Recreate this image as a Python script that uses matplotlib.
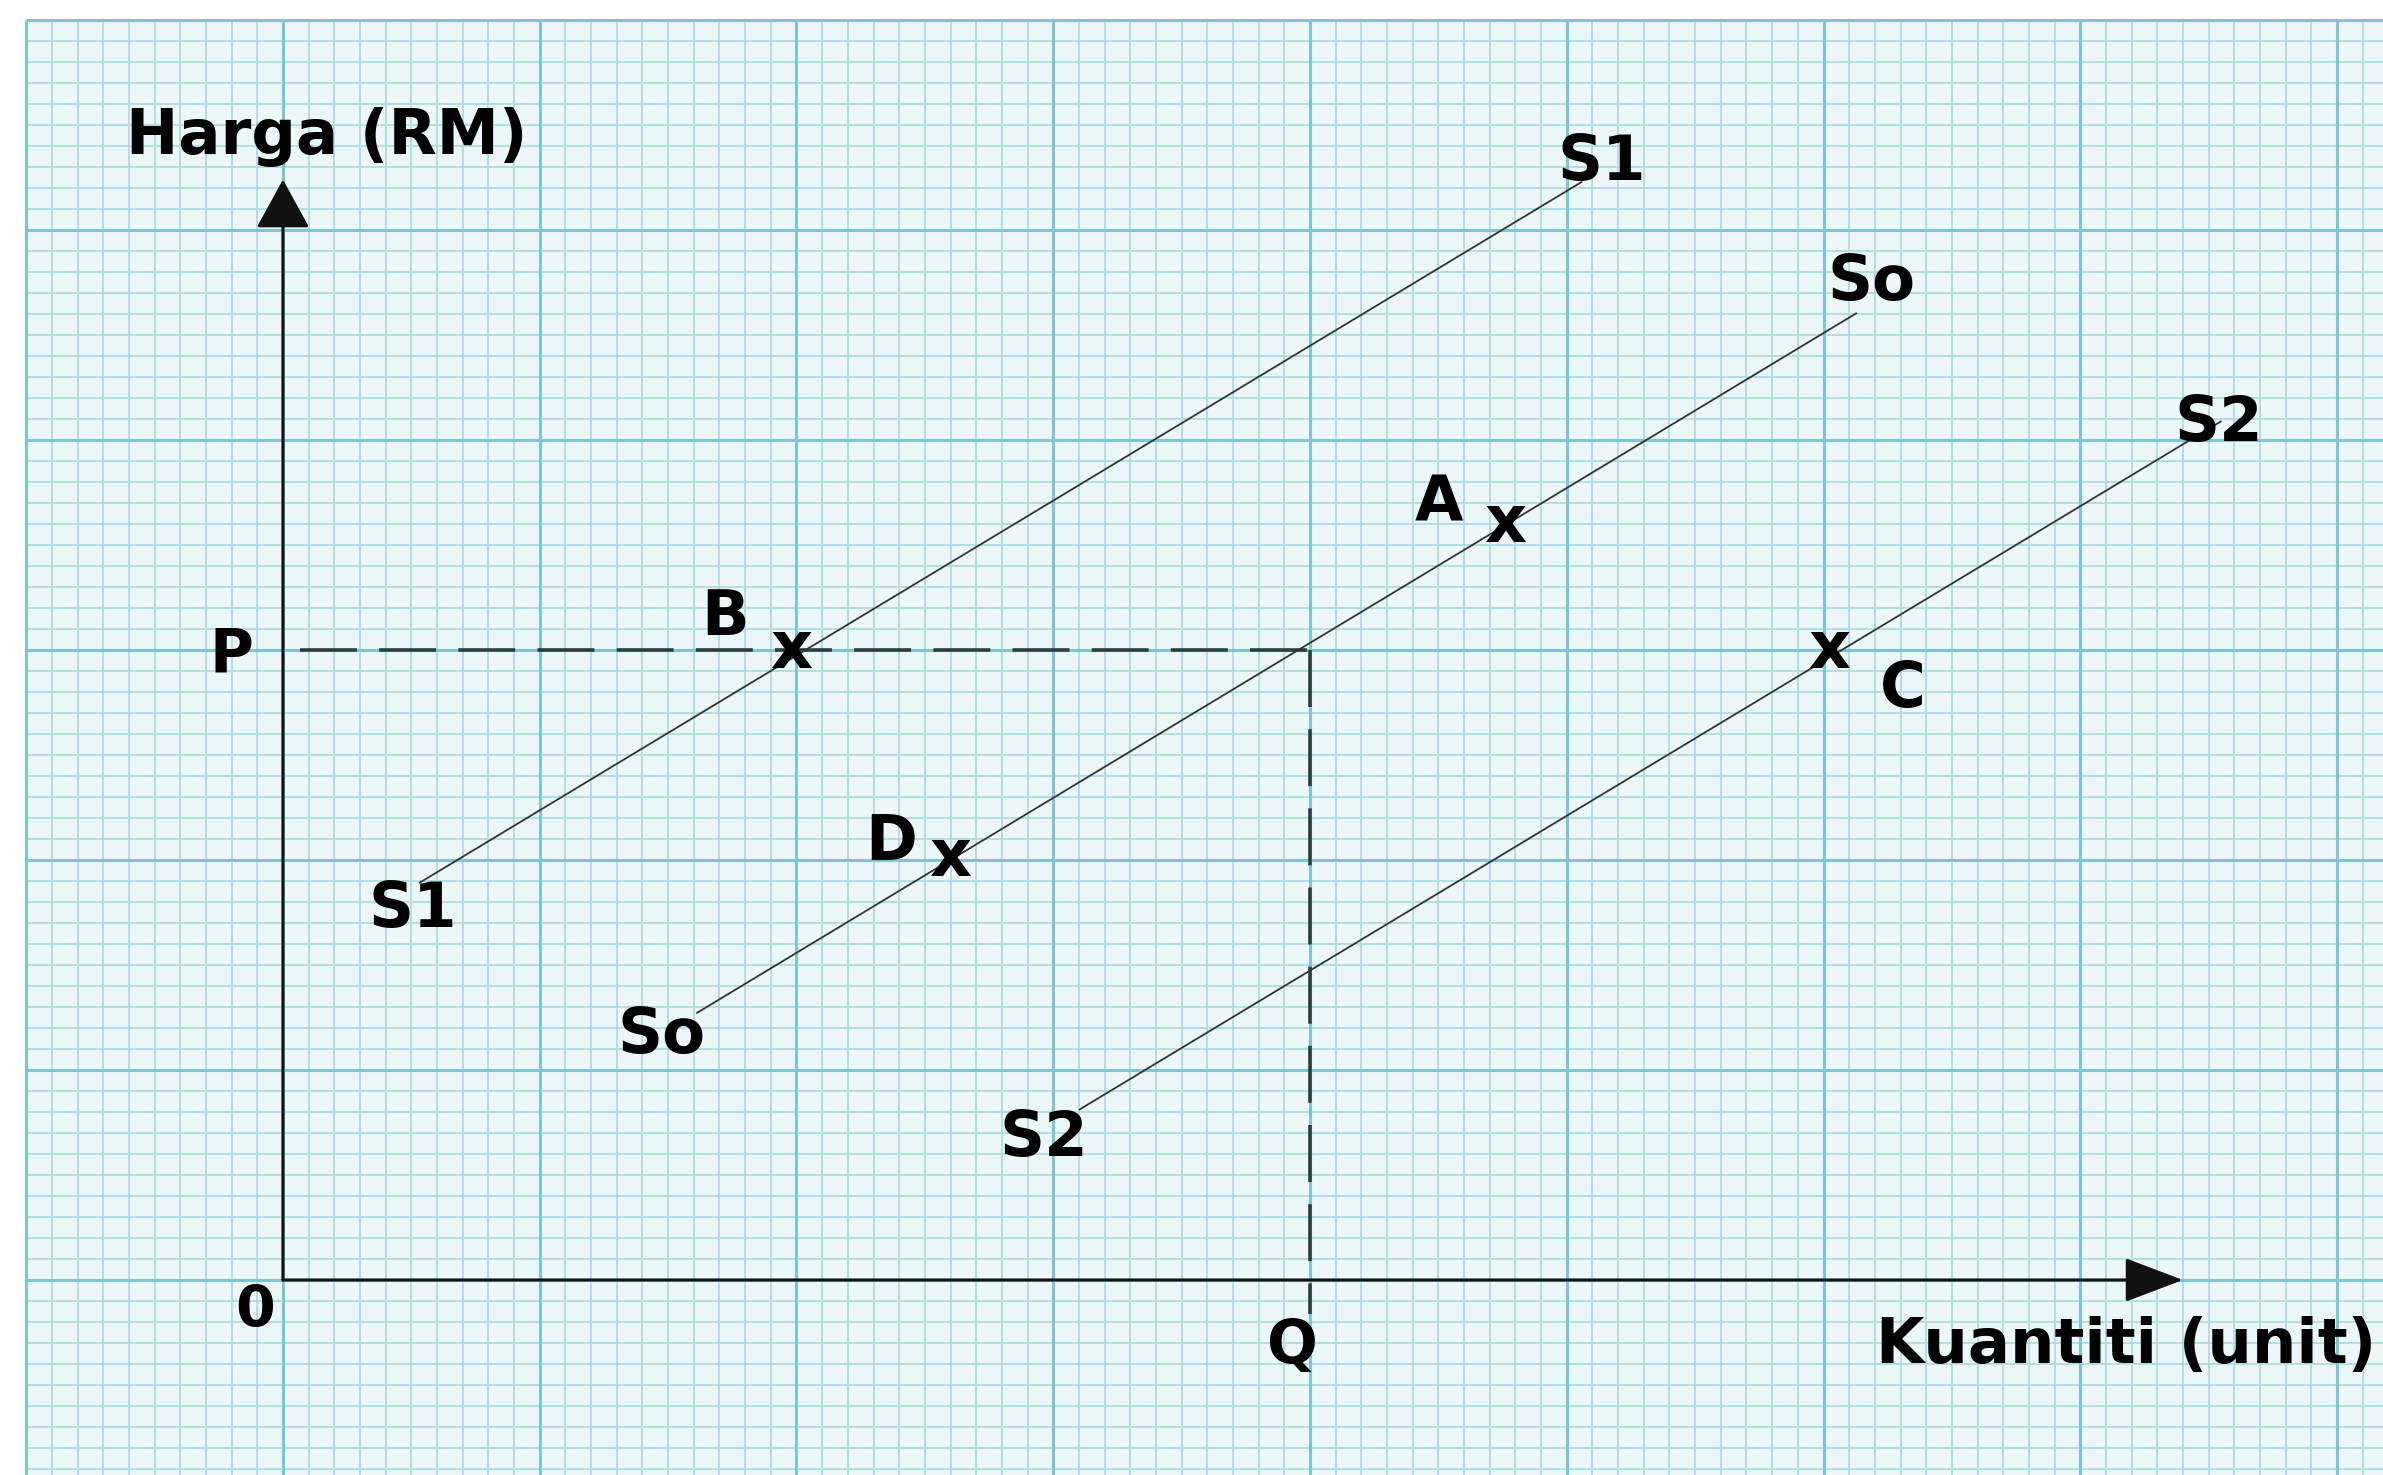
import matplotlib
matplotlib.use("Agg")
import matplotlib.pyplot as plt
import numpy as np
from matplotlib.patches import Rectangle

plt.rcParams['font.family'] = ['DejaVu Sans']
plt.rcParams['lines.scale_dashes'] = False

# ---------------- data ----------------
P_level = 3.0          # price P
Q_level = 4.0          # quantity Q
y_axis_top = 5.24      # tip of price-axis arrow
x_axis_right = 7.40    # tip of quantity-axis arrow

curve_names = ["S1", "So", "S2"]
s1_x = [0.53, 5.06]
s1_y = [1.89, 5.23]
so_x = [1.61, 6.13]
so_y = [1.27, 4.605]
s2_x = [3.10, 7.55]
s2_y = [0.81, 4.09]

point_labels = ["A", "B", "C", "D"]
point_x = [4.76, 1.98, 6.02, 2.60]
point_y = [3.60, 3.00, 3.00, 2.01]

y_title = "Harga (RM)"
x_title = "Kuantiti (unit)"

# ---------------- figure ----------------
fig = plt.figure(figsize=(23.83, 14.75), dpi=100)
fig.patch.set_facecolor("white")
ax = fig.add_axes([0, 0, 1, 1])
xmin, xmax = -1.102, 8.179
ymin, ymax = -0.9286, 6.095
ax.set_xlim(xmin, xmax)
ax.set_ylim(ymin, ymax)
ax.axis("off")

# graph paper
bg, minor_c, major_c = "#ecf7fa", "#afdce4", "#7ec6d2"
gx0, gy1 = -1.0, 6.0
ax.add_patch(Rectangle((gx0, ymin), xmax - gx0, gy1 - ymin, facecolor=bg,
                       edgecolor="none", zorder=0))
xs = np.round(np.arange(gx0, xmax, 0.1), 3)
ys = np.round(np.arange(gy1, ymin, -0.1), 3)
minor_x = [v for v in xs if abs(v - round(v)) > 1e-6]
major_x = [v for v in xs if abs(v - round(v)) <= 1e-6]
minor_y = [v for v in ys if abs(v - round(v)) > 1e-6]
major_y = [v for v in ys if abs(v - round(v)) <= 1e-6]
ax.vlines(minor_x, ymin, gy1, colors=minor_c, lw=1.3, zorder=1)
ax.hlines(minor_y, gx0, xmax, colors=minor_c, lw=1.3, zorder=1)
ax.vlines(major_x, ymin, gy1, colors=major_c, lw=2.2, zorder=1.5)
ax.hlines(major_y, gx0, xmax, colors=major_c, lw=2.2, zorder=1.5)

# axes with arrows
axc = "#111111"
ax.annotate("", xy=(0, y_axis_top), xytext=(0, 0),
            arrowprops=dict(arrowstyle="-|>,head_length=31,head_width=17",
                            mutation_scale=1, lw=2.2, color=axc,
                            shrinkA=0, shrinkB=0), zorder=5)
ax.annotate("", xy=(x_axis_right, 0), xytext=(0, 0),
            arrowprops=dict(arrowstyle="-|>,head_length=37,head_width=14",
                            mutation_scale=1, lw=2.2, color=axc,
                            shrinkA=0, shrinkB=0), zorder=5)

# dashed guide lines
dc = "#2a3f42"
ax.plot([0.066, Q_level], [P_level, P_level], color=dc, lw=2.6,
        dashes=(41, 16), zorder=4)
ax.plot([Q_level, Q_level], [P_level, -0.16], color=dc, lw=2.6,
        dashes=(41, 16), zorder=4)

# supply curves
lc = "#333333"
for xx, yy in [(s1_x, s1_y), (so_x, so_y), (s2_x, s2_y)]:
    ax.plot(xx, yy, color=lc, lw=1.3, zorder=4, solid_capstyle="butt")

tk = dict(fontweight="bold", color="black", ha="center", va="center",
          zorder=6)
fs = 45
cs = -0.027  # shift so capitals are centred

# curve labels (bottom, top)
curve_label_pos = {
    "S1": [(0.506, 1.79), (5.137, 5.348)],
    "So": [(1.476, 1.19), (6.185, 4.776)],
    "S2": [(2.964, 0.70), (7.540, 4.105)],
}
for name in curve_names:
    for (lx, ly) in curve_label_pos[name]:
        ax.text(lx, ly + cs, name, fontsize=fs, **tk)

# points marked with "x" and letter labels
letter_offsets = {"A": (-0.26, 0.125), "B": (-0.257, 0.18),
                  "C": (0.29, -0.165), "D": (-0.23, 0.10)}
for lab, px, py in zip(point_labels, point_x, point_y):
    ax.text(px, py, "x", fontsize=47, **tk)
    dx, dy = letter_offsets[lab]
    ax.text(px + dx, py + dy + cs, lab, fontsize=fs, **tk)

# axis letters
ax.text(-0.202, P_level + 0.005 + cs, "P", fontsize=43, **tk)
ax.text(3.93, -0.29 + cs, "Q", fontsize=43, **tk)
ax.text(-0.109, -0.124 + cs, "0", fontsize=41, **tk)

# axis titles
ax.text(0.171, 5.471 + cs, y_title, fontsize=fs, **tk)
ax.text(6.205, -0.286 + cs, x_title, fontsize=fs, fontweight="bold",
        color="black", ha="left", va="center", zorder=6)

fig.savefig("out.png", dpi=100, facecolor="white")
